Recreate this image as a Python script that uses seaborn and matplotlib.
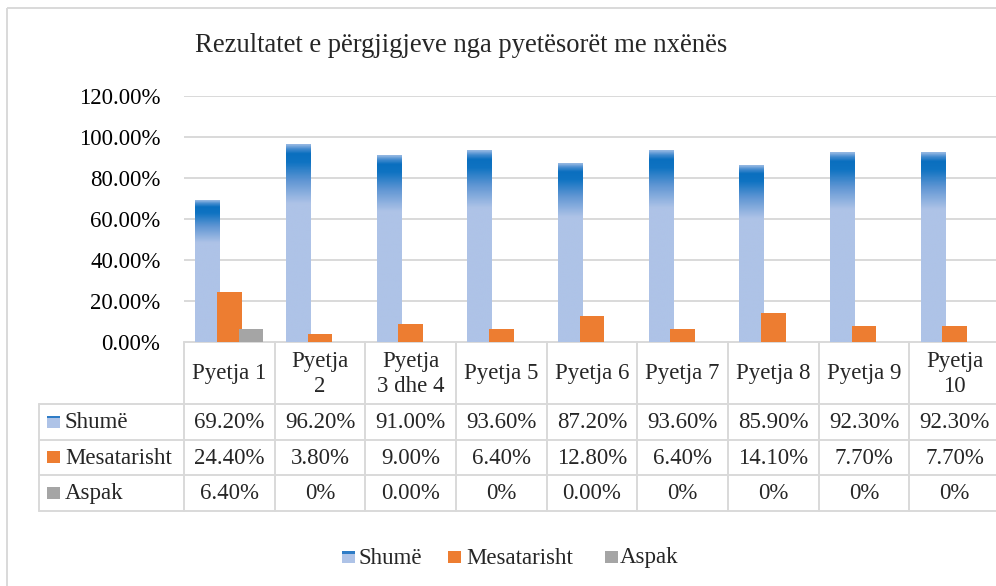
import numpy as np
import pandas as pd
import matplotlib
matplotlib.use("Agg")
import matplotlib.pyplot as plt
import seaborn as sns
from matplotlib.colors import LinearSegmentedColormap
from matplotlib.transforms import blended_transform_factory
from matplotlib.patches import Rectangle

# ---------------- data ----------------
title = "Rezultatet e përgjigjeve nga pyetësorët me nxënës"
categories = ["Pyetja 1", "Pyetja\n2", "Pyetja\n3 dhe 4", "Pyetja 5", "Pyetja 6",
              "Pyetja 7", "Pyetja 8", "Pyetja 9", "Pyetja\n10"]
series_names = ["Shumë", "Mesatarisht", "Aspak"]
shume = [0.692, 0.962, 0.910, 0.936, 0.872, 0.936, 0.859, 0.923, 0.923]
mesatarisht = [0.244, 0.038, 0.090, 0.064, 0.128, 0.064, 0.141, 0.077, 0.077]
aspak = [0.064, 0.0, 0.0, 0.0, 0.0, 0.0, 0.0, 0.0, 0.0]
shume_labels = ["69.20%", "96.20%", "91.00%", "93.60%", "87.20%", "93.60%", "85.90%", "92.30%", "92.30%"]
mesatarisht_labels = ["24.40%", "3.80%", "9.00%", "6.40%", "12.80%", "6.40%", "14.10%", "7.70%", "7.70%"]
aspak_labels = ["6.40%", "0%", "0.00%", "0%", "0.00%", "0%", "0%", "0%", "0%"]
yticks = [0.0, 0.2, 0.4, 0.6, 0.8, 1.0, 1.2]
ytick_labels = ["0.00%", "20.00%", "40.00%", "60.00%", "80.00%", "100.00%", "120.00%"]

# ---------------- style ----------------
light_blue = "#AEC3E7"
orange = "#ED7D31"
gray = "#A5A5A5"
grid_c = "#D9D9D9"
FS = 16.5
FS_TITLE = 19.2

sns.set_theme(style="white")
plt.rcParams["font.family"] = ["Liberation Serif", "DejaVu Serif"]

W, H = 996, 586
fig = plt.figure(figsize=(W / 100, H / 100), dpi=100)
fig.patch.set_facecolor("white")

# overlay in pixel coords
ov = fig.add_axes([0, 0, 1, 1], zorder=0)
ov.set_xlim(0, W)
ov.set_ylim(H, 0)
ov.axis("off")

# main axes
L, R, TOP, BOT = 184, 1000, 96, 342
ax = fig.add_axes([L / W, (H - BOT) / H, (R - L) / W, (BOT - TOP) / H], zorder=2)
ax.patch.set_alpha(0)

df = pd.DataFrame({
    "s": [series_names[0]] * 9 + [series_names[1]] * 9 + [series_names[2]] * 9,
    "v": shume + mesatarisht + aspak,
    "qc": categories * 3,
})

sns.barplot(data=df, x="qc", y="v", hue="s", order=categories, hue_order=series_names,
            palette=[light_blue, orange, gray], width=0.72, dodge=True, saturation=1,
            legend=False, ax=ax, errorbar=None, linewidth=0)

# widen bars slightly (Excel overlap) and set z-order
bw = 0.27
for k, cont in enumerate(ax.containers):
    for p in cont.patches:
        c = p.get_x() + p.get_width() / 2
        p.set_x(c - bw / 2)
        p.set_width(bw)
        p.set_zorder(2 + k)

# gradient on the Shumë bars
cmap = LinearSegmentedColormap.from_list("grad", [
    (0.0, "#93B7E2"), (0.02, "#4A8ED0"), (0.045, "#0A6FBF"), (0.09, "#0F73C2"),
    (0.18, "#5E95D3"), (0.30, light_blue), (1.0, light_blue)])
grad = np.linspace(0, 1, 400).reshape(-1, 1)
for p in ax.containers[0].patches:
    x0, w, h = p.get_x(), p.get_width(), p.get_height()
    ax.imshow(grad, cmap=cmap, extent=[x0, x0 + w, 0, h], origin="upper",
              aspect="auto", zorder=2.5, interpolation="bilinear")
ax.set_xlim(-0.5, len(categories) - 0.5)
ax.set_ylim(0, 1.2)

ax.set_yticks(yticks)
ax.set_yticklabels(ytick_labels, fontsize=FS, color="black")
ax.tick_params(axis="y", length=0, pad=17)
ax.set_xticks([])
ax.set_xlabel("")
ax.set_ylabel("")
ax.grid(False)
for yv in yticks[1:]:
    ax.axhline(yv, color=grid_c, lw=1.4, zorder=1)
for s in ax.spines.values():
    s.set_visible(False)

# ---------------- title & border ----------------
ov.add_patch(Rectangle((7, 8), 1100, 700, fill=False, ec=grid_c, lw=1.4))
ov.text(461, 45, title, ha="center", va="center", fontsize=FS_TITLE)

# ---------------- data table ----------------
tr = blended_transform_factory(ax.transData, ov.transData)
n = len(categories)
row_y = [342, 404, 439.5, 475, 510.5]
lw_t = 1.4
ov.plot([L, R + 10], [row_y[0]] * 2, color=grid_c, lw=lw_t)
for yv in row_y[1:]:
    ov.plot([39, R + 10], [yv, yv], color=grid_c, lw=lw_t)
ov.plot([39, 39], [row_y[1], row_y[-1]], color=grid_c, lw=lw_t)
for i in range(n + 1):
    ov.plot([i - 0.5, i - 0.5], [row_y[0], row_y[-1]], color=grid_c, lw=lw_t, transform=tr)

for i, cat in enumerate(categories):
    ov.text(i, (row_y[0] + row_y[1]) / 2 + 1, cat, ha="center", va="center",
            fontsize=FS, transform=tr, linespacing=1.2)
rows = [shume_labels, mesatarisht_labels, aspak_labels]
for r, labels in enumerate(rows):
    yc = (row_y[r + 1] + row_y[r + 2]) / 2 + 1
    for i, t in enumerate(labels):
        ov.text(i, yc, t, ha="center", va="center", fontsize=FS, transform=tr)


def legend_icon(x, yc, kind):
    if kind == 0:
        ov.add_patch(Rectangle((x, yc - 6), 13, 12, fc=light_blue, ec="none"))
        ov.add_patch(Rectangle((x, yc - 6), 13, 2.5, fc="#2E7CC6", ec="none"))
    else:
        ov.add_patch(Rectangle((x, yc - 6), 13, 12, fc=[orange, gray][kind - 1], ec="none"))


for r, name in enumerate(series_names):
    yc = (row_y[r + 1] + row_y[r + 2]) / 2
    legend_icon(47, yc, r)
    ov.text(65, yc + 1, name, ha="left", va="center", fontsize=FS)

# ---------------- bottom legend ----------------
leg_x = [342, 448, 605]
leg_tx = [359, 466, 620]
for k, name in enumerate(series_names):
    legend_icon(leg_x[k], 557, k)
    ov.text(leg_tx[k], 558, name, ha="left", va="center", fontsize=FS)

fig.savefig("out.png", dpi=100)
